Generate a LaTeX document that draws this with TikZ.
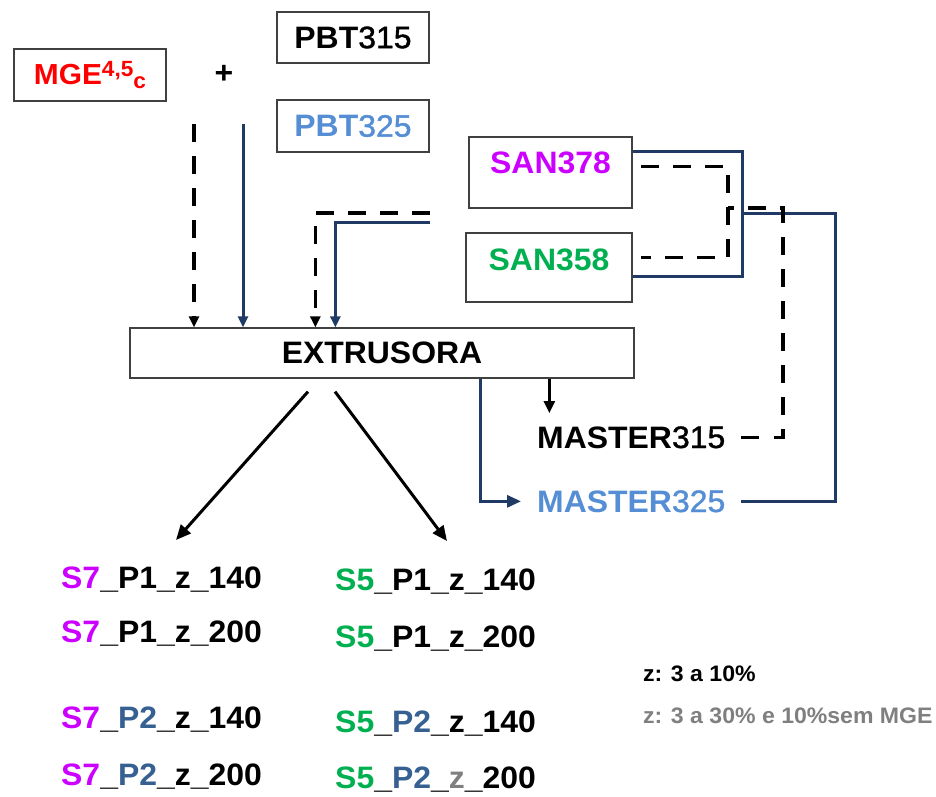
\documentclass[tikz,border=0pt]{standalone}
\usepackage{fontspec}
\setmainfont{Liberation Sans}[FakeStretch=1.03]
\newfontfamily\digf{Liberation Sans}[FakeStretch=1.03,FakeBold=1.2]
\usetikzlibrary{arrows.meta,calc}
\definecolor{mag}{HTML}{CC00FF}
\definecolor{grn}{HTML}{00B050}
\definecolor{lblue}{HTML}{558ED5}
\definecolor{pblue}{HTML}{376092}
\definecolor{navy}{HTML}{1F3A64}
\definecolor{gry}{HTML}{7F7F7F}
\definecolor{boxc}{HTML}{404040}
\newcommand{\fsz}[1]{\fontsize{#1}{#1}\selectfont}
\newcommand{\dg}[1]{{\digf\mdseries #1}}
\begin{document}
\begin{tikzpicture}[x=1pt,y=-1pt,
  box/.style={draw=boxc,line width=1.3pt,inner sep=0pt,font=\bfseries\fsz{31}},
  lbl/.style={inner sep=0pt,font=\bfseries\fsz{31}},
  master/.style={inner xsep=16pt,inner ysep=13pt,anchor=base west,font=\bfseries\fsz{31}},
  navyline/.style={draw=navy,line width=3pt},
  dashline/.style={draw=black,line width=3.5pt,dash pattern=on 18pt off 14pt},
  navyarrow/.style={navyline,-{Triangle[length=11pt,width=10pt]}},
  dasharrow/.style={dashline,-{Triangle[length=11pt,width=10pt]}},
  blackarrow/.style={draw=black,line width=2.5pt,-{Triangle[length=12pt,width=11pt]}},
  navyarrowb/.style={navyline,-{Triangle[length=14pt,width=12pt]}},
  bigarrow/.style={draw=black,line width=3pt,-{Triangle[length=15pt,width=13pt]}},
  legend/.style={inner sep=0pt,anchor=base west,font=\bfseries\fsz{22.4}}
]
\useasboundingbox (0,0) rectangle (936,796);

% boxes
\node[box,minimum width=152,minimum height=52] (mge) at (90,75)
  {\color{red}\fsz{29}MGE\raisebox{8pt}{\fsz{22}4,5}\raisebox{-4pt}{\fsz{22}c}};
\node[lbl] (plus) at (224,74) {+};
\node[box,minimum width=152,minimum height=51] (pbt315) at (353,37.5) {PBT\dg{315}};
\node[box,minimum width=152,minimum height=52] (pbt325) at (353,126) {\color{lblue}PBT\dg{325}};
\node[box,minimum width=163,text height=36pt,text depth=35pt] (san378) at (550.5,172.5) {\color{mag}SAN378};
\node[box,minimum width=166,text height=37pt,text depth=32pt] (san358) at (549,267.5) {\color{grn}SAN358};
\node[box,minimum width=504,minimum height=50] (extr) at (382,353) {EXTRUSORA};
\node[master] (m315) at (521,448) {MASTER\dg{315}};
\node[master] (m325) at (521,512) {\color{lblue}MASTER\dg{325}};

% products
\node[lbl,anchor=base west] (a1) at (61,588) {\color{mag}S7\color{black}\_P1\_z\_140};
\node[lbl,anchor=base west] (a2) at (61,642) {\color{mag}S7\color{black}\_P1\_z\_200};
\node[lbl,anchor=base west] (a3) at (61,728) {\color{mag}S7\color{black}\_\color{pblue}P2\color{black}\_z\_140};
\node[lbl,anchor=base west] (a4) at (61,785) {\color{mag}S7\color{black}\_\color{pblue}P2\color{black}\_z\_200};
\node[lbl,anchor=base west] (b1) at (335,590) {\color{grn}S5\color{black}\_P1\_z\_140};
\node[lbl,anchor=base west] (b2) at (335,647) {\color{grn}S5\color{black}\_P1\_z\_200};
\node[lbl,anchor=base west] (b3) at (335,732) {\color{grn}S5\color{black}\_\color{pblue}P2\color{black}\_z\_140};
\node[lbl,anchor=base west] (b4) at (335,788) {\color{grn}S5\color{black}\_\color{pblue}P2\color{black}\_\color{gry}z\color{black}\_200};

% legend
\node[legend] (lg1) at (643,681) {z: 3 a 10\%};
\node[legend] (lg2) at (643,723) {\color{gry}z: 3 a 30\% e 10\%sem MGE};

% inputs to extruder
\coordinate (md) at (194,124);
\coordinate (mn) at (243,124);
\draw[dasharrow] (md) -- (md |- extr.north);
\draw[navyarrow] (mn) -- (mn |- extr.north);
\coordinate (ld) at (430,213);
\coordinate (ln) at (430,222);
\draw[dasharrow] (ld) -| ($(extr.north west)+(186,0)$);
\draw[navyarrow] (ln) -| ($(extr.north west)+(206,0)$);

% SAN loops
\coordinate (jn) at (742,213);
\coordinate (jd) at (728,208);
\coordinate (rn) at (835,213);
\coordinate (rd) at (783,208);
\draw[navyline] ($(san378.north east)+(0,15)$) -| (jn) |- ($(san358.south east)+(0,-26)$);
\draw[dashline] ($(san378.north east)+(8,30)$) -| (jd) |- ($(san358.south east)+(8,-45)$);
\draw[navyline] (m325.east) -| (rn) -- (jn);
\draw[dashline] (m315.east) -| (rd) -- (jd);

% extruder outputs
\coordinate (e1) at ($(extr.south west)+(420,0)$);
\coordinate (e2) at ($(extr.south west)+(351,0)$);
\draw[blackarrow] (e1) -- (e1 |- m315.north);
\draw[navyarrowb] (e2) |- (m325.west);
\coordinate (s1) at ($(extr.south)+(-74,13)$);
\coordinate (s2) at ($(extr.south)+(-47,13)$);
\coordinate (dl) at (176,540);
\coordinate (dr) at (447,541);
\draw[bigarrow] (s1) -- (dl);
\draw[bigarrow] (s2) -- (dr);
\end{tikzpicture}
\end{document}
